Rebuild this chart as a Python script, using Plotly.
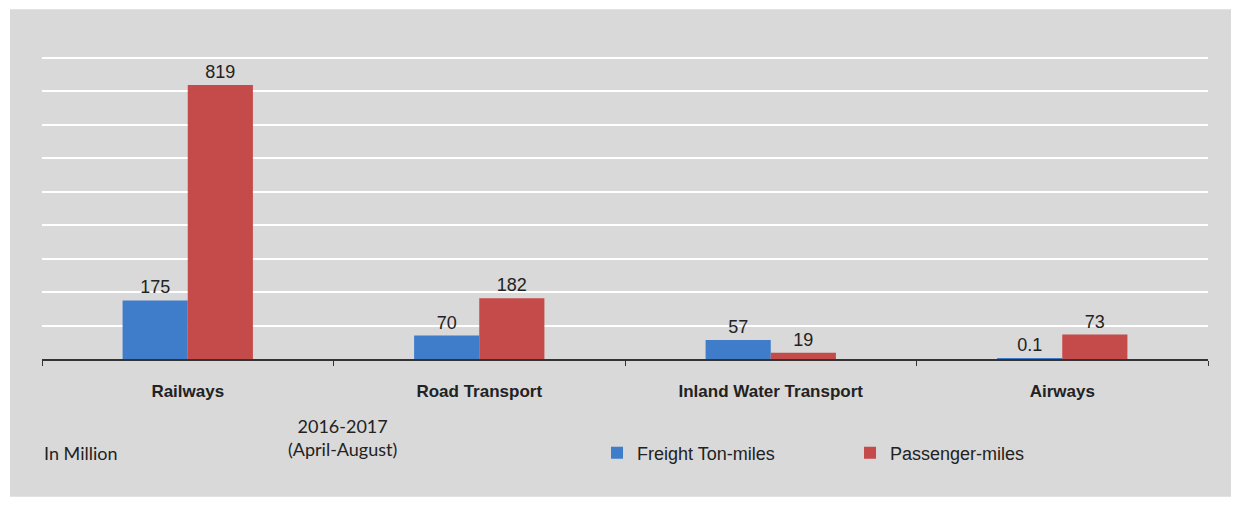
import plotly.graph_objects as go

categories = ['Railways', 'Road Transport', 'Inland Water Transport', 'Airways']
freight = [175, 70, 57, 0.1]
passenger = [819, 182, 19, 73]
freight_labels = ['175', '70', '57', '0.1']
passenger_labels = ['819', '182', '19', '73']

blue = '#3f7dcb'
red = '#c44b4a'
grey = '#d9d9d9'

fig = go.Figure()
fig.add_trace(go.Bar(x=categories, y=freight, name='Freight Ton-miles',
                     marker=dict(color=blue, line=dict(width=0)),
                     text=freight_labels, textposition='outside',
                     textfont=dict(family='Liberation Sans, Arial', size=18, color='#222'),
                     cliponaxis=False))
fig.add_trace(go.Bar(x=categories, y=passenger, name='Passenger-miles',
                     marker=dict(color=red, line=dict(width=0)),
                     text=passenger_labels, textposition='outside',
                     textfont=dict(family='Liberation Sans, Arial', size=18, color='#222'),
                     cliponaxis=False))

# grey panel behind everything (page adds an 8px body margin)
fig.add_shape(type='rect', xref='paper', yref='paper',
              x0=-0.0274, x1=1.0206, y0=-0.455, y1=1.154,
              fillcolor=grey, line=dict(width=0), layer='below')

fig.add_annotation(text='In Million', xref='paper', yref='paper',
                   x=0.0, y=-0.31, xanchor='left', yanchor='middle',
                   showarrow=False, font=dict(family='Lato', size=18, color='#222'))
fig.add_annotation(text='2016-2017<br>(April-August)', xref='paper', yref='paper',
                   x=0.2573, y=-0.258, xanchor='center', yanchor='middle',
                   showarrow=False, font=dict(family='Lato', size=18, color='#222'))

fig.update_layout(
    width=1231, height=498,
    margin=dict(l=34, r=31, t=48, b=147),
    paper_bgcolor='white',
    plot_bgcolor=grey,
    barmode='group',
    bargap=0.553,
    bargroupgap=0,
    showlegend=True,
    legend=dict(orientation='h', x=0.476, y=-0.31, xanchor='left', yanchor='middle',
                bgcolor='rgba(0,0,0,0)', entrywidth=208, entrywidthmode='pixels',
                font=dict(family='Liberation Sans, Arial', size=18, color='#222')),
    font=dict(family='Liberation Sans, Arial', color='#222'),
)
fig.update_xaxes(showline=True, linecolor='#333', linewidth=1.5,
                 ticks='outside', tickson='boundaries', ticklen=5, tickcolor='#333',
                 ticklabelstandoff=16,
                 tickfont=dict(family='Liberation Sans, Arial', size=17, color='#222',
                               weight='bold'),
                 showgrid=False)
fig.update_yaxes(range=[0, 906], dtick=100, showticklabels=False,
                 showgrid=True, gridcolor='white', gridwidth=1.5,
                 zeroline=False, showline=False)

fig.write_html("out.html")
